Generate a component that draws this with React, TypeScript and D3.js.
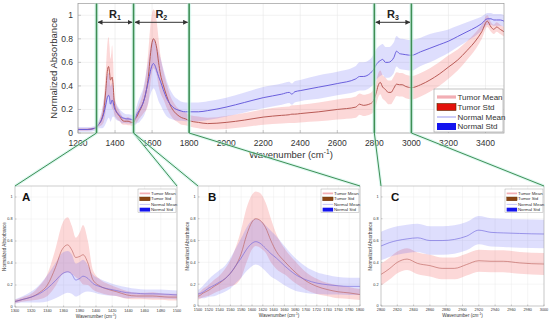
import React from 'react';
import * as d3 from 'd3';

const WAVENUMBER = [1200, 1250, 1290, 1300, 1310, 1320, 1330, 1340, 1350, 1358, 1365, 1370, 1375, 1380, 1384, 1390, 1396, 1405, 1415, 1425, 1438, 1450, 1460, 1470, 1480, 1490, 1500, 1510, 1520, 1530, 1540, 1550, 1560, 1570, 1580, 1590, 1600, 1607, 1615, 1625, 1635, 1645, 1660, 1680, 1700, 1720, 1740, 1760, 1780, 1800, 1850, 1900, 2000, 2100, 2200, 2300, 2340, 2355, 2370, 2400, 2500, 2600, 2700, 2720, 2740, 2780, 2800, 2810, 2820, 2832, 2845, 2860, 2875, 2890, 2905, 2920, 2935, 2950, 2970, 3000, 3050, 3100, 3150, 3200, 3250, 3300, 3350, 3380, 3410, 3430, 3445, 3460, 3480, 3500];

const TUMOR_MEAN = [0.03, 0.03, 0.04, 0.05, 0.07, 0.09, 0.13, 0.2, 0.36, 0.52, 0.565, 0.52, 0.45, 0.46, 0.475, 0.4, 0.25, 0.19, 0.16, 0.14, 0.11, 0.1, 0.1, 0.1, 0.095, 0.09, 0.09, 0.12, 0.145, 0.18, 0.21, 0.25, 0.3, 0.37, 0.48, 0.65, 0.77, 0.8, 0.785, 0.72, 0.6, 0.5, 0.41, 0.31, 0.23, 0.18, 0.15, 0.13, 0.12, 0.105, 0.09, 0.08, 0.09, 0.11, 0.135, 0.15, 0.155, 0.16, 0.16, 0.165, 0.18, 0.2, 0.22, 0.245, 0.235, 0.25, 0.29, 0.34, 0.4, 0.43, 0.39, 0.37, 0.345, 0.345, 0.38, 0.415, 0.41, 0.41, 0.395, 0.385, 0.41, 0.45, 0.5, 0.56, 0.62, 0.7, 0.79, 0.86, 0.95, 0.9, 0.88, 0.9, 0.88, 0.86];

const TUMOR_STD = [0.01, 0.01, 0.01, 0.015, 0.02, 0.03, 0.06, 0.1, 0.17, 0.23, 0.25, 0.22, 0.18, 0.22, 0.27, 0.2, 0.09, 0.06, 0.05, 0.04, 0.035, 0.03, 0.03, 0.035, 0.03, 0.03, 0.03, 0.04, 0.05, 0.06, 0.07, 0.09, 0.12, 0.17, 0.22, 0.25, 0.25, 0.25, 0.25, 0.23, 0.2, 0.16, 0.12, 0.1, 0.08, 0.07, 0.06, 0.06, 0.055, 0.05, 0.05, 0.05, 0.055, 0.06, 0.065, 0.07, 0.07, 0.075, 0.075, 0.075, 0.08, 0.085, 0.09, 0.09, 0.09, 0.09, 0.1, 0.1, 0.1, 0.1, 0.1, 0.1, 0.1, 0.1, 0.1, 0.1, 0.1, 0.1, 0.1, 0.1, 0.1, 0.1, 0.1, 0.1, 0.09, 0.08, 0.07, 0.06, 0.05, 0.04, 0.04, 0.04, 0.04, 0.04];

const NORMAL_MEAN = [0.03, 0.03, 0.04, 0.05, 0.07, 0.09, 0.12, 0.17, 0.24, 0.3, 0.32, 0.3, 0.245, 0.26, 0.28, 0.26, 0.215, 0.185, 0.165, 0.15, 0.13, 0.125, 0.12, 0.12, 0.118, 0.115, 0.11, 0.13, 0.165, 0.19, 0.22, 0.25, 0.3, 0.37, 0.44, 0.52, 0.575, 0.59, 0.575, 0.53, 0.48, 0.44, 0.37, 0.29, 0.24, 0.21, 0.195, 0.185, 0.18, 0.18, 0.18, 0.19, 0.22, 0.26, 0.3, 0.33, 0.345, 0.33, 0.35, 0.36, 0.39, 0.42, 0.46, 0.48, 0.48, 0.51, 0.55, 0.58, 0.6, 0.615, 0.625, 0.6, 0.6, 0.61, 0.64, 0.695, 0.675, 0.67, 0.665, 0.66, 0.69, 0.72, 0.75, 0.78, 0.82, 0.86, 0.9, 0.93, 0.97, 0.97, 0.96, 0.96, 0.96, 0.95];

const NORMAL_STD = [0.02, 0.02, 0.02, 0.02, 0.03, 0.05, 0.08, 0.12, 0.16, 0.19, 0.19, 0.18, 0.15, 0.15, 0.15, 0.12, 0.08, 0.07, 0.06, 0.05, 0.05, 0.04, 0.04, 0.04, 0.04, 0.04, 0.04, 0.06, 0.08, 0.1, 0.11, 0.12, 0.14, 0.16, 0.18, 0.2, 0.21, 0.21, 0.21, 0.21, 0.21, 0.2, 0.18, 0.15, 0.12, 0.1, 0.09, 0.08, 0.08, 0.08, 0.08, 0.08, 0.08, 0.085, 0.09, 0.09, 0.09, 0.09, 0.09, 0.09, 0.1, 0.1, 0.11, 0.12, 0.12, 0.12, 0.13, 0.13, 0.13, 0.13, 0.13, 0.13, 0.13, 0.13, 0.13, 0.13, 0.13, 0.13, 0.13, 0.13, 0.12, 0.12, 0.11, 0.1, 0.09, 0.08, 0.07, 0.06, 0.05, 0.05, 0.05, 0.05, 0.05, 0.05];

const MAIN_X_TICKS = [1200, 1400, 1600, 1800, 2000, 2200, 2400, 2600, 2800, 3000, 3200, 3400];
const Y_TICKS = [0, 0.2, 0.4, 0.6, 0.8, 1];
const Y_TICK_LABELS = ['0', '0.2', '0.4', '0.6', '0.8', '1'];
const A_X_TICKS = [1300, 1320, 1340, 1360, 1380, 1400, 1420, 1440, 1460, 1480, 1500];
const B_X_TICKS = [1500, 1520, 1540, 1560, 1580, 1600, 1620, 1640, 1660, 1680, 1700, 1720, 1740, 1760, 1780, 1800];
const C_X_TICKS = [2800, 2820, 2840, 2860, 2880, 2900, 2920, 2940, 2960, 2980, 3000];
const LEGEND_LABELS = ['Tumor Mean', 'Tumor Std', 'Normal Mean', 'Normal Std'];
const REGIONS = [
  { sub: '1', from: 1300, to: 1500 },
  { sub: '2', from: 1500, to: 1800 },
  { sub: '3', from: 2800, to: 3000 },
];

const FONT = "'Liberation Sans', Arial, Helvetica, sans-serif";
const TEXT = '#333';
const TUMOR_LINE = '#b85a55';
const NORMAL_LINE = '#6a5fdc';
const GREEN = '#3e8f55';

type Pt = { w: number; tm: number; ts: number; nm: number; ns: number };
const POINTS: Pt[] = WAVENUMBER.map((w, i) => ({
  w, tm: TUMOR_MEAN[i], ts: TUMOR_STD[i], nm: NORMAL_MEAN[i], ns: NORMAL_STD[i],
}));

type PanelProps = {
  id: string;
  left: number; right: number; top: number; bottom: number;
  xDomain: [number, number];
  xTicks: number[];
  tickFs: number; labelFs: number;
  yLabelX: number; xTickY: number; xLabelY: number; yTickX: number;
  tickLen: number;
  small: boolean;
};

function Legend({ x, y, s, small }: { x: number; y: number; s: number; small: boolean }) {
  const w = 69 * s, h = 43 * s;
  const rows = [8, 18, 28, 37.5].map((r) => y + r * s);
  const sx0 = x + 3 * s, sx1 = x + 22 * s;
  const tumorStd = small ? '#8b4513' : '#e3120b';
  return (
    <g>
      <rect x={x} y={y} width={w} height={h} fill="#fff" stroke="#999" strokeWidth={small ? 0.4 : 0.6} />
      <line x1={sx0} x2={sx1} y1={rows[0]} y2={rows[0]} stroke="#f2aeb4" strokeWidth={3.2 * s} />
      <rect x={sx0} y={rows[1] - 3.5 * s} width={sx1 - sx0} height={7 * s} fill={tumorStd} stroke="#5a2a00" strokeWidth={0.6 * s} />
      <line x1={sx0} x2={sx1} y1={rows[2]} y2={rows[2]} stroke="#aaaaf2" strokeWidth={1.2 * s} />
      <rect x={sx0} y={rows[3] - 3.5 * s} width={sx1 - sx0} height={7 * s} fill="#1414ee" />
      {LEGEND_LABELS.map((l, i) => (
        <text key={l} x={x + 23.5 * s} y={rows[i] + 2.8 * s} fontSize={8 * s} fontFamily={FONT} fill={TEXT}>{l}</text>
      ))}
    </g>
  );
}

function Panel(p: PanelProps) {
  const x = d3.scaleLinear().domain(p.xDomain).range([p.left, p.right]);
  const y = d3.scaleLinear().domain([0, 1.1]).range([p.bottom, p.top]);
  const area = (m: keyof Pt, s: keyof Pt) =>
    d3.area<Pt>().x((d) => x(d.w)).y0((d) => y(d[m] - d[s])).y1((d) => y(d[m] + d[s])).curve(d3.curveMonotoneX)(POINTS) || '';
  const line = (m: keyof Pt) =>
    d3.line<Pt>().x((d) => x(d.w)).y((d) => y(d[m])).curve(d3.curveMonotoneX)(POINTS) || '';
  const sw = p.small ? 0.6 : 1;
  return (
    <g>
      <defs>
        <clipPath id={p.id}>
          <rect x={p.left} y={p.top} width={p.right - p.left} height={p.bottom - p.top} />
        </clipPath>
      </defs>
      <rect x={p.left} y={p.top} width={p.right - p.left} height={p.bottom - p.top} fill="#fff" />
      {p.xTicks.map((t) => (
        <line key={'gx' + t} x1={x(t)} x2={x(t)} y1={p.top} y2={p.bottom} stroke="#e8e8e8" strokeWidth={p.small ? 0.4 : 0.6} />
      ))}
      {Y_TICKS.map((t) => (
        <line key={'gy' + t} x1={p.left} x2={p.right} y1={y(t)} y2={y(t)} stroke="#e8e8e8" strokeWidth={p.small ? 0.4 : 0.6} />
      ))}
      <g clipPath={`url(#${p.id})`}>
        <path d={area('tm', 'ts')} fill="#f23a3a" fillOpacity={0.2} />
        <path d={area('nm', 'ns')} fill="#3a3af2" fillOpacity={0.17} />
        <path d={line('tm')} fill="none" stroke={TUMOR_LINE} strokeWidth={sw} />
        <path d={line('nm')} fill="none" stroke={NORMAL_LINE} strokeWidth={sw} />
      </g>
      <rect x={p.left} y={p.top} width={p.right - p.left} height={p.bottom - p.top} fill="none" stroke="#9a9a9a" strokeWidth={p.small ? 0.5 : 0.7} />
      {p.xTicks.map((t) => (
        <g key={'tx' + t}>
          <line x1={x(t)} x2={x(t)} y1={p.bottom} y2={p.bottom - p.tickLen} stroke="#9a9a9a" strokeWidth={0.5} />
          <text x={x(t)} y={p.xTickY} fontSize={p.tickFs} fontFamily={FONT} fill={TEXT} textAnchor="middle">{t}</text>
        </g>
      ))}
      {Y_TICKS.map((t, i) => (
        <g key={'ty' + t}>
          <line x1={p.left} x2={p.left + p.tickLen} y1={y(t)} y2={y(t)} stroke="#9a9a9a" strokeWidth={0.5} />
          <text x={p.yTickX} y={y(t) + p.tickFs * 0.35} fontSize={p.tickFs} fontFamily={FONT} fill={TEXT} textAnchor="end">{Y_TICK_LABELS[i]}</text>
        </g>
      ))}
      <text transform={`translate(${p.yLabelX},${(p.top + p.bottom) / 2}) rotate(-90)`} fontSize={p.labelFs} fontFamily={FONT} fill={TEXT} textAnchor="middle">Normalized Absorbance</text>
      <text x={(p.left + p.right) / 2} y={p.xLabelY} fontSize={p.labelFs} fontFamily={FONT} fill={TEXT} textAnchor="middle">
        Wavenumber (cm<tspan fontSize={p.labelFs * 0.7} dy={-p.labelFs * 0.4}>-1</tspan><tspan dy={p.labelFs * 0.4}>)</tspan>
      </text>
    </g>
  );
}

export default function App() {
  const mx = d3.scaleLinear().domain([1200, 3500]).range([78, 504]);
  const mainTop = 3.5, mainBottom = 133;
  const subs = [
    { id: 'cA', letter: 'A', left: 15, right: 177, top: 186, bottom: 307, dom: [1300, 1500] as [number, number], ticks: A_X_TICKS },
    { id: 'cB', letter: 'B', left: 198, right: 360, top: 186, bottom: 306, dom: [1500, 1800] as [number, number], ticks: B_X_TICKS },
    { id: 'cC', letter: 'C', left: 381, right: 544, top: 186, bottom: 306, dom: [2800, 3000] as [number, number], ticks: C_X_TICKS },
  ];
  const connectors = [
    [mx(1300), subs[0].left], [mx(1500), subs[0].right],
    [mx(1500), subs[1].left], [mx(1800), subs[1].right],
    [mx(2800), subs[2].left], [mx(3000), subs[2].right],
  ];
  const vlines = [1300, 1500, 1800, 2800, 3000];
  return (
    <svg width={550} height={324} style={{ position: 'absolute', left: 0, top: 0, background: '#fff' }}>
      <defs>
        <marker id="ah" viewBox="0 0 10 10" refX="9" refY="5" markerWidth="5" markerHeight="5" orient="auto-start-reverse">
          <path d="M0,0 L10,5 L0,10 z" fill="#333" />
        </marker>
      </defs>
      <rect width={550} height={324} fill="#fff" />
      <Panel id="cMain" left={78} right={504} top={mainTop} bottom={mainBottom} xDomain={[1200, 3500]} xTicks={MAIN_X_TICKS}
        tickFs={8.5} labelFs={9.5} yLabelX={57} xTickY={145.5} xLabelY={158} yTickX={73} tickLen={3} small={false} />
      <Legend x={434} y={89} s={1} small={false} />
      {subs.map((s) => (
        <g key={s.id}>
          <Panel id={s.id} left={s.left} right={s.right} top={s.top} bottom={s.bottom} xDomain={s.dom} xTicks={s.ticks}
            tickFs={3.8} labelFs={4.6} yLabelX={s.left - 9.5} xTickY={s.bottom + 4.5} xLabelY={s.bottom + 10.5} yTickX={s.left - 2.5} tickLen={1.5} small={true} />
          <Legend x={s.right - 39} y={s.top + 3} s={0.55} small={true} />
          <text x={s.left + (s.letter === 'A' ? 7 : 10)} y={s.top + 15} fontSize={11.5} fontWeight="bold" fontFamily={FONT} fill="#111">{s.letter}</text>
        </g>
      ))}
      {connectors.map(([x0, x1], i) => (
        <g key={'c' + i}>
          <line x1={x0} y1={mainBottom} x2={x1} y2={186} stroke="#c6f3e6" strokeWidth={3} opacity={0.6} />
          <line x1={x0} y1={mainBottom} x2={x1} y2={186} stroke={GREEN} strokeWidth={1} />
        </g>
      ))}
      {vlines.map((v) => (
        <g key={'v' + v}>
          <line x1={mx(v)} x2={mx(v)} y1={mainTop} y2={mainBottom} stroke="#c6f3e6" strokeWidth={4} opacity={0.6} />
          <line x1={mx(v)} x2={mx(v)} y1={mainTop} y2={mainBottom} stroke={GREEN} strokeWidth={1.6} />
        </g>
      ))}
      {REGIONS.map((r) => {
        const a = mx(r.from), b = mx(r.to), c = (a + b) / 2;
        return (
          <g key={r.sub}>
            <line x1={a + 1.5} x2={b - 1.5} y1={22.3} y2={22.3} stroke="#333" strokeWidth={1} markerStart="url(#ah)" markerEnd="url(#ah)" />
            <text x={c} y={18} fontSize={11} fontWeight="bold" fontFamily={FONT} fill="#222" textAnchor="middle">
              R<tspan fontSize={7} dy={2}>{r.sub}</tspan>
            </text>
          </g>
        );
      })}
    </svg>
  );
}
